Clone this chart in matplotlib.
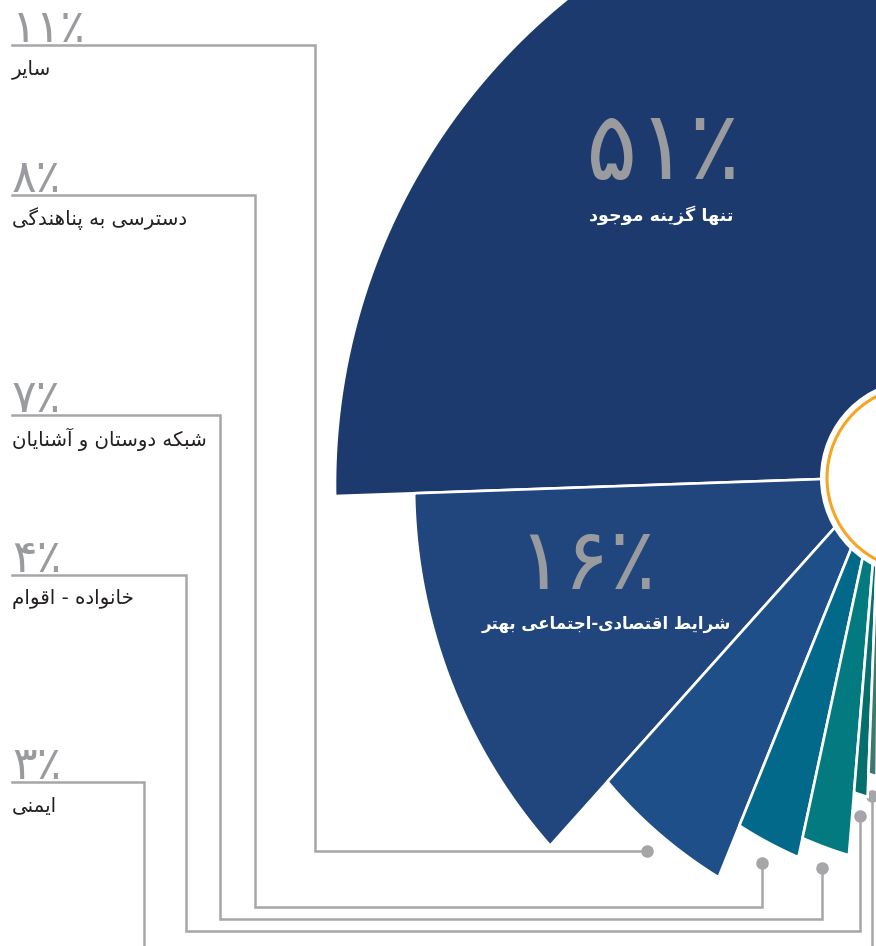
import numpy as np
import matplotlib
matplotlib.use('Agg')
import matplotlib.pyplot as plt
from matplotlib.patches import Polygon, Circle

# داده‌ها
labels = ['تنها گزینه موجود', 'شرایط اقتصادی-اجتماعی بهتر', 'سایر',
          'دسترسی به پناهندگی', 'شبکه دوستان و آشنایان', 'خانواده - اقوام', 'ایمنی']
values = [51, 16, 11, 8, 7, 4, 3]
colors = ['#1d3a6e', '#21467d', '#1f4f88', '#02698b', '#027a7f', '#046f6c', '#3c7a6e']

# جای برچسب‌های سمت چپ (برای ۱۱، ۸، ۷، ۴، ۳ درصد)
label_y = [45, 195, 415, 575, 782]
elbow_x = [315, 255, 220, 186, 144]
run_y = [None, 907, 919, 931, 990]

W, H = 876, 946
apex = np.array([880.0, 477.0])
arc_c = np.array([960.0, 485.0])
start_deg = 182.0
r_max = 625.0
gray = '#a6a6a8'
num_gray = '#9a9b9f'
FONT = ['DejaVu Sans']

# حروف: جدا، پایانی، آغازی، میانی
forms = {
    'ا': ('\uFE8D', '\uFE8E', None, None), 'آ': ('\uFE81', '\uFE82', None, None),
    'ب': ('\uFE8F', '\uFE90', '\uFE91', '\uFE92'), 'پ': ('\uFB56', '\uFB57', '\uFB58', '\uFB59'),
    'ت': ('\uFE95', '\uFE96', '\uFE97', '\uFE98'), 'ج': ('\uFE9D', '\uFE9E', '\uFE9F', '\uFEA0'),
    'خ': ('\uFEA5', '\uFEA6', '\uFEA7', '\uFEA8'), 'د': ('\uFEA9', '\uFEAA', None, None),
    'ر': ('\uFEAD', '\uFEAE', None, None), 'ز': ('\uFEAF', '\uFEB0', None, None),
    'س': ('\uFEB1', '\uFEB2', '\uFEB3', '\uFEB4'), 'ش': ('\uFEB5', '\uFEB6', '\uFEB7', '\uFEB8'),
    'ص': ('\uFEB9', '\uFEBA', '\uFEBB', '\uFEBC'), 'ط': ('\uFEC1', '\uFEC2', '\uFEC3', '\uFEC4'),
    'ع': ('\uFEC9', '\uFECA', '\uFECB', '\uFECC'), 'ق': ('\uFED5', '\uFED6', '\uFED7', '\uFED8'),
    'ک': ('\uFB8E', '\uFB8F', '\uFB90', '\uFB91'), 'گ': ('\uFB92', '\uFB93', '\uFB94', '\uFB95'),
    'م': ('\uFEE1', '\uFEE2', '\uFEE3', '\uFEE4'), 'ن': ('\uFEE5', '\uFEE6', '\uFEE7', '\uFEE8'),
    'ه': ('\uFEE9', '\uFEEA', '\uFEEB', '\uFEEC'), 'و': ('\uFEED', '\uFEEE', None, None),
    'ی': ('\uFBFC', '\uFBFD', '\uFBFE', '\uFBFF'),
}


def shape(text):
    # matplotlib حروف فارسی را نمی‌چسباند، پس دستی شکل حروف را عوض می‌کنیم
    out = []
    for i, ch in enumerate(text):
        f = forms.get(ch)
        if f is None:
            out.append(ch)
            continue
        prev = text[i - 1] if i > 0 else ''
        nxt = text[i + 1] if i < len(text) - 1 else ''
        jp = prev in forms and forms[prev][2] is not None
        jn = f[2] is not None and nxt in forms
        if jp and jn:
            out.append(f[3])
        elif jp:
            out.append(f[1])
        elif jn:
            out.append(f[2])
        else:
            out.append(f[0])
    return ''.join(reversed(out))


def fa_pct(v):
    return str(v).translate(str.maketrans('0123456789', '۰۱۲۳۴۵۶۷۸۹')) + '٪'


def radius(v):
    return min(216.6 + 35.84 * v ** 0.8, r_max)


def span(v):
    return 0.0775 * v ** 2.3 + 0.6


def ray_len(u, R):
    d = apex - arc_c
    b = u @ d
    return -b + np.sqrt(b * b - d @ d + R * R)


def unit(a):
    a = np.radians(a)
    return np.array([np.cos(a), -np.sin(a)])


def slice_pts(a0, a1, R):
    pts = [apex]
    for a in np.linspace(a0, a1, 300):
        u = unit(a)
        pts.append(apex + ray_len(u, R) * u)
    return np.array(pts)


fig = plt.figure(figsize=(W / 100, H / 100), dpi=100)
ax = fig.add_axes([0, 0, 1, 1])
ax.set_xlim(0, W)
ax.set_ylim(H, 0)
ax.axis('off')

# برش‌ها
angles = [(start_deg - values[0] / 100 * 360, start_deg)]
a = start_deg
for v in values[1:]:
    angles.append((a, a + span(v)))
    a += span(v)

for (a0, a1), v, c in zip(angles, values, colors):
    ax.add_patch(Polygon(slice_pts(a0, a1, radius(v)), closed=True, fc=c, ec='white',
                         lw=1.9, joinstyle='miter', zorder=2))

# دایره وسط
ax.add_patch(Circle((919, 478), 99, fc='white', ec='none', zorder=3))
ax.add_patch(Circle((919, 478), 92, fc='none', ec='#f6a523', lw=2.2, zorder=4))

# برچسب‌های داخل دو برش بزرگ
ax.text(663, 179, fa_pct(values[0]), ha='center', va='baseline', fontsize=69,
        color=num_gray, family=FONT)
ax.text(661, 215, shape(labels[0]), ha='center', va='center', fontsize=12.6,
        color='white', fontweight='bold', family=FONT)
ax.text(587, 589, fa_pct(values[1]), ha='center', va='baseline', fontsize=62,
        color=num_gray, family=FONT)
ax.text(606, 624, shape(labels[1]), ha='center', va='center', fontsize=12.0,
        color='white', fontweight='bold', family=FONT)

# خط‌های راهنما و برچسب‌های سمت چپ
for k, i in enumerate(range(2, 7)):
    a0, a1 = angles[i]
    u = unit((a0 + a1) / 2)
    dot = apex + (ray_len(u, radius(values[i])) + 21) * u
    if run_y[k] is None:
        xs = [dot[0], elbow_x[k], elbow_x[k], 12]
        ys = [dot[1], dot[1], label_y[k], label_y[k]]
    else:
        xs = [dot[0], dot[0], elbow_x[k], elbow_x[k], 12]
        ys = [dot[1], run_y[k], run_y[k], label_y[k], label_y[k]]
    ax.plot(xs, ys, color=gray, lw=1.8, solid_joinstyle='miter', zorder=1)
    ax.plot(dot[0], dot[1], 'o', ms=8, color=gray, zorder=1)
    ax.text(12, label_y[k] - 3, fa_pct(values[i]), ha='left', va='baseline', fontsize=33,
            color=num_gray, family=FONT)
    ax.text(12, label_y[k] + 24, shape(labels[i]), ha='left', va='center', fontsize=14.2,
            color='#231f20', family=FONT)

fig.savefig('out.png', dpi=100)
